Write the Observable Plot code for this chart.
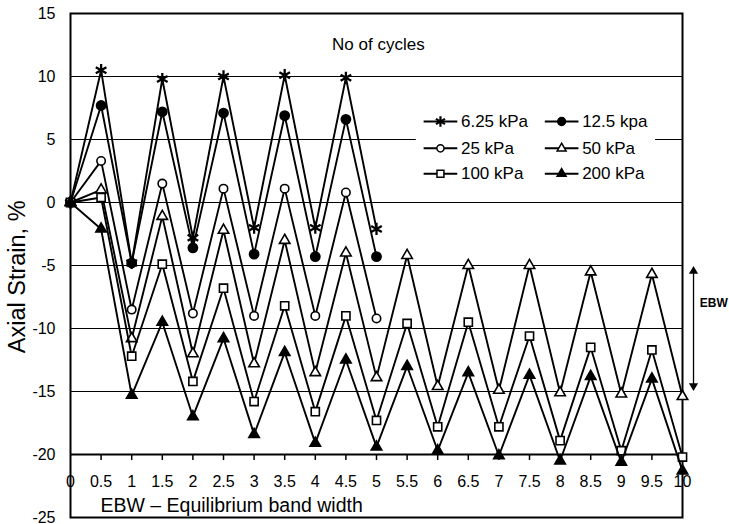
<!DOCTYPE html>
<html>
<head>
<meta charset="utf-8">
<script src="https://cdn.jsdelivr.net/npm/d3@7"></script>
<script src="https://cdn.jsdelivr.net/npm/@observablehq/plot@0.6"></script>
<style>
  html, body { margin: 0; padding: 0; background: #fff; }
  #chart { width: 729px; height: 524px; }
</style>
</head>
<body>
<div id="chart"></div>
<script>
// ---- data ----
const cycles = [0, 0.5, 1, 1.5, 2, 2.5, 3, 3.5, 4, 4.5, 5, 5.5, 6, 6.5, 7, 7.5, 8, 8.5, 9, 9.5, 10];
const seriesNames = ["6.25 kPa", "12.5 kpa", "25 kPa", "50 kPa", "100 kPa", "200 kPa"];
const s6_25 = [0, 10.5, -4.8, 9.8, -2.8, 10.0, -2.0, 10.1, -2.0, 9.9, -2.1];
const s12_5 = [0, 7.7, -4.8, 7.2, -3.6, 7.1, -4.1, 6.9, -4.3, 6.6, -4.3];
const s25 = [0, 3.3, -8.5, 1.5, -8.8, 1.1, -9.0, 1.1, -9.0, 0.8, -9.2];
const s50 = [0, 1.0, -10.8, -1.1, -12.0, -2.2, -12.8, -3.0, -13.5, -4.0, -13.9, -4.2, -14.6, -5.0, -14.9, -5.0, -15.1, -5.5, -15.2, -5.7, -15.4];
const s100 = [0, 0.4, -12.2, -4.9, -14.2, -6.8, -15.8, -8.2, -16.6, -9.0, -17.3, -9.6, -17.8, -9.5, -17.8, -10.6, -18.9, -11.5, -19.7, -11.7, -20.2];
const s200 = [0, -2.1, -15.3, -9.5, -17.0, -10.8, -18.4, -11.9, -19.1, -12.5, -19.4, -13.0, -19.7, -13.5, -20.1, -13.7, -20.5, -13.8, -20.6, -14.0, -21.3];
const seriesValues = [s6_25, s12_5, s25, s50, s100, s200];
const yTicks = [15, 10, 5, 0, -5, -10, -15, -20, -25];
const gridY = [10, 5, 0, -5, -10, -15];
const xTickLabels = ["0", "0.5", "1", "1.5", "2", "2.5", "3", "3.5", "4", "4.5", "5", "5.5", "6", "6.5", "7", "7.5", "8", "8.5", "9", "9.5", "10"];
const titleText = "No of cycles";
const xTitle = "EBW \u2013 Equilibrium band width";
const yTitle = "Axial Strain, %";
const ebwLabel = "EBW";

// ---- styles (not data) ----
const styles = [
  {symbol: "asterisk", fill: "none", r: 5.8},
  {symbol: "circle", fill: "black", r: 4.6},
  {symbol: "circle", fill: "white", r: 4.2},
  {symbol: "triangle", fill: "white", r: 3.9},
  {symbol: "square", fill: "white", r: 4.6},
  {symbol: "triangle", fill: "black", r: 3.9}
];

// ---- annotation layout (data coordinates) ----
const legendCols = [{x1: 5.77, x2: 6.32, tx: 6.38}, {x1: 7.75, x2: 8.30, tx: 8.36}];
const legendRows = [6.43, 4.30, 2.28];

const rows = [];
seriesValues.forEach((vals, si) => {
  vals.forEach((v, i) => rows.push({x: cycles[i], y: v, series: seriesNames[si], si}));
});
const legend = seriesNames.map((name, i) => {
  const c = legendCols[i % 2];
  return {name, i, x1: c.x1, x2: c.x2, xm: (c.x1 + c.x2) / 2, tx: c.tx, y: legendRows[Math.floor(i / 2)]};
});
const xTicks = cycles.map((c, i) => ({x: c, label: xTickLabels[i]}));

const marks = [
  Plot.ruleY(gridY, {stroke: "black", strokeWidth: 1}),
  Plot.rect([0], {x1: () => 5.65, x2: () => 9.56, y1: () => 0.95, y2: () => 8.1, fill: "white"}),
  Plot.ruleY([-20], {stroke: "black", strokeWidth: 2}),
  Plot.ruleX(cycles.slice(1, -1), {y1: -20, y2: -20.48, stroke: "black", strokeWidth: 1.5}),
  Plot.text(xTicks, {x: "x", y: () => -22.2, text: "label", fontSize: 16, fill: "black"}),
  Plot.text([xTitle], {x: () => 0.49, y: () => -24.1, text: d => d, textAnchor: "start", fontSize: 19.5, fill: "black"}),
  Plot.text([titleText], {x: () => 5.03, y: () => 12.55, text: d => d, fontSize: 17, fill: "black"}),
  Plot.text([yTitle], {x: () => -0.87, y: () => -5.9, text: d => d, rotate: -90, fontSize: 23.5, fill: "black"}),
  Plot.axisY({ticks: yTicks, tickSize: 0, tickPadding: 15, tickFormat: d => String(d), fontSize: 16, label: null}),
  Plot.frame({stroke: "black", strokeWidth: 2})
];

seriesNames.forEach((name, si) => {
  const st = styles[si];
  const data = rows.filter(d => d.si === si);
  marks.push(Plot.line(data, {x: "x", y: "y", stroke: "black", strokeWidth: 1.9}));
  marks.push(Plot.dot(data, {x: "x", y: "y", symbol: st.symbol, r: st.r,
    fill: st.fill, stroke: "black", strokeWidth: st.symbol === "asterisk" ? 2.3 : 1.6}));
});

// legend
marks.push(Plot.link(legend, {x1: "x1", x2: "x2", y1: "y", y2: "y", stroke: "black", strokeWidth: 1.9}));
legend.forEach(d => {
  const st = styles[d.i];
  marks.push(Plot.dot([d], {x: "xm", y: "y", symbol: st.symbol, r: st.r * 0.85, fill: st.fill,
    stroke: "black", strokeWidth: st.symbol === "asterisk" ? 2.2 : 1.5}));
});
marks.push(Plot.text(legend, {x: "tx", y: "y", text: "name", textAnchor: "start", fontSize: 17, fill: "black"}));

// EBW arrow
marks.push(Plot.ruleX([10.18], {y1: -5.4, y2: -14.6, stroke: "black", strokeWidth: 1.3}));
marks.push(Plot.dot([{x: 10.18, y: -5.45, r: 0}, {x: 10.18, y: -14.55, r: 180}],
  {x: "x", y: "y", rotate: "r", symbol: "triangle", r: 3.4, fill: "black", stroke: "none"}));
marks.push(Plot.text([ebwLabel], {x: () => 10.51, y: () => -8.0, text: d => d, fontSize: 12, fontWeight: "bold", fill: "black"}));

const chart = Plot.plot({
  width: 729,
  height: 524,
  marginLeft: 70,
  marginRight: 47,
  marginTop: 13,
  marginBottom: 7,
  x: {domain: [0, 10], axis: null},
  y: {domain: [-25, 15], axis: null},
  style: {fontFamily: "'Liberation Sans', Arial, sans-serif", background: "white", overflow: "visible"},
  marks
});
document.getElementById("chart").appendChild(chart);
</script>
</body>
</html>
